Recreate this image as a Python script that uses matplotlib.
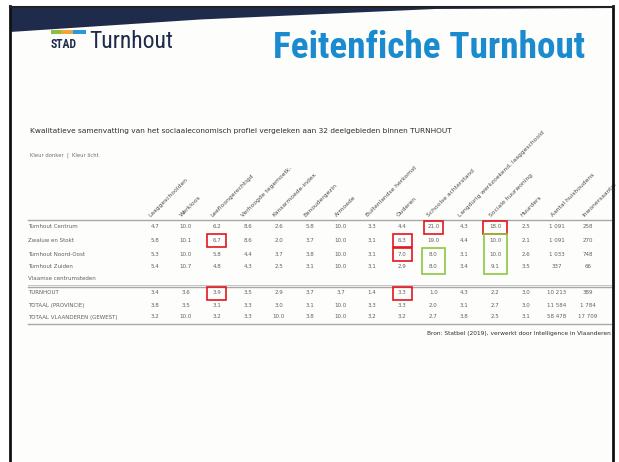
import matplotlib
matplotlib.use("Agg")
import matplotlib.pyplot as plt
from matplotlib.patches import Polygon, Rectangle
import numpy as np

# ---------------- data ----------------
slide_title = "Feitenfiche Turnhout"
logo_small = "STAD"
logo_big = "Turnhout"
table_title = ("Kwalitatieve samenvatting van het sociaaleconomisch profiel vergeleken "
               "aan 32 deelgebieden binnen TURNHOUT")
legend_text = "Kleur donker  |  Kleur licht"
footnote = "Bron: Statbel (2019), verwerkt door Intelligence in Vlaanderen"

col_labels = ["Laaggeschoolden", "Werkloos", "Leefloongerechtigd", "Verhoogde tegemoetk.",
              "Kansarmoede-index", "Eenoudergezin", "Armoede", "Buitenlandse herkomst",
              "Ouderen", "Schoolse achterstand", "Langdurig werkzoekend, laaggeschoold",
              "Sociale huurwoning", "Huurders", "Aantal huishoudens", "Inwonersaantal"]

row_labels = ["Turnhout Centrum", "Zwaluw en Stokt", "Turnhout Noord-Oost", "Turnhout Zuiden",
              "Vlaamse centrumsteden",
              "TURNHOUT", "TOTAAL (PROVINCIE)", "TOTAAL VLAANDEREN (GEWEST)"]

row_turnhout_centrum = [4.7, 10.0, 6.2, 8.6, 2.6, 5.8, 10.0, 3.3, 4.4, 21.0, 4.3, 18.0, 2.5, 1091, 258]
row_zwaluw = [5.8, 10.1, 6.7, 8.6, 2.0, 3.7, 10.0, 3.1, 6.3, 19.0, 4.4, 10.0, 2.1, 1091, 270]
row_noord_oost = [5.3, 10.0, 5.8, 4.4, 3.7, 3.8, 10.0, 3.1, 7.0, 8.0, 3.1, 10.0, 2.6, 1033, 748]
row_zuiden = [5.4, 10.7, 4.8, 4.3, 2.5, 3.1, 10.0, 3.1, 2.9, 8.0, 3.4, 9.1, 3.5, 337, 66]
row_turnhout = [3.4, 3.6, 3.9, 3.5, 2.9, 3.7, 3.7, 1.4, 3.3, 1.0, 4.3, 2.2, 3.0, 10213, 389]
row_provincie = [3.8, 3.5, 3.1, 3.3, 3.0, 3.1, 10.0, 3.3, 3.3, 2.0, 3.1, 2.7, 3.0, 11584, 1784]
row_vlaanderen = [3.2, 10.0, 3.2, 3.3, 10.0, 3.8, 10.0, 3.2, 3.2, 2.7, 3.8, 2.5, 3.1, 58478, 17709]

table_rows = [row_turnhout_centrum, row_zwaluw, row_noord_oost, row_zuiden, None,
              row_turnhout, row_provincie, row_vlaanderen]

# highlighted cells: (column index, first row, last row)
red_cells = [(2, 1, 1), (2, 5, 5), (8, 1, 1), (8, 2, 2), (8, 5, 5), (9, 0, 0), (11, 0, 0)]
green_cells = [(9, 2, 3), (11, 1, 3)]

# ---------------- layout ----------------
NARROW = ["Roboto Condensed", "Archivo Narrow", "Liberation Sans Narrow", "PT Sans Narrow",
          "DejaVu Sans"]

W, H = 619, 462
fig = plt.figure(figsize=(W / 100, H / 100), dpi=100)
fig.patch.set_facecolor("white")
ax = fig.add_axes([0, 0, 1, 1])
ax.set_xlim(0, W)
ax.set_ylim(H, 0)
ax.axis("off")

# slide background and border
ax.add_patch(Rectangle((10, 7), 603, 460, facecolor="#fdfdfb", edgecolor="none", zorder=0))
ax.plot([10, 10], [6, H], color="#111111", lw=2.0, zorder=5)
ax.plot([613, 613], [6, H], color="#111111", lw=2.0, zorder=5)
ax.plot([10, 613], [7, 7], color="#222222", lw=1.5, zorder=5)
ax.add_patch(Polygon([(10, 7), (10, 32), (200, 19.5), (435, 9), (613, 8), (613, 7)],
                     closed=True, facecolor="#1f2b4b", edgecolor="none", zorder=4))

# logo
for x0, w, c in [(51, 10, "#8cbf3f"), (61, 12, "#f2a33a"), (73, 13, "#2a9ad6")]:
    ax.add_patch(Rectangle((x0, 29.5), w, 4, facecolor=c, edgecolor="none", zorder=6))
ax.text(51, 48.5, logo_small, fontsize=8.5, fontweight="bold", color="#1f2b4b",
        family=NARROW, va="baseline", ha="left")
ax.text(89, 48.5, logo_big, fontsize=17.0, color="#1f2b4b",
        family=NARROW, va="baseline", ha="left")

# slide title
ax.text(585, 58, slide_title, fontsize=26.8, fontweight="bold", color="#1a8bcf",
        family=NARROW, va="baseline", ha="right")

# table title and legend
ax.text(30, 133, table_title, fontsize=5.3, color="#2e2e2e", ha="left", va="baseline")
ax.text(30, 157, legend_text, fontsize=3.8, color="#707070", ha="left", va="baseline")

col_x = np.linspace(155, 588, len(col_labels))
row_y = [227, 240.5, 254, 267, 278.5, 293, 305.5, 317]
label_x = 28
txt_col = "#606060"

# rotated headers
for x, lab in zip(col_x, col_labels):
    ax.text(x - 4, 217, lab, rotation=45, rotation_mode="anchor", fontsize=4.3,
            color="#4a4a4a", ha="left", va="baseline")

# rules
ax.plot([28, 611], [220, 220], color="#a8a8a8", lw=1.0)
ax.plot([28, 611], [284.5, 284.5], color="#bbbbbb", lw=0.6)
ax.plot([28, 611], [287, 287], color="#a8a8a8", lw=1.0)
ax.plot([28, 611], [324, 324], color="#a8a8a8", lw=1.0)

def fmt(v):
    if isinstance(v, int):
        return f"{v:,}".replace(",", " ")
    return f"{v:.1f}"

for r, (y, lab) in enumerate(zip(row_y, row_labels)):
    ax.text(label_x, y, lab, fontsize=4.0, color=txt_col, ha="left", va="center")
    vals = table_rows[r]
    if vals is None:
        continue
    for x, v in zip(col_x, vals):
        ax.text(x, y, fmt(v), fontsize=4.0, color=txt_col, ha="center", va="center")

# footnote
ax.text(611, 334, footnote, fontsize=4.2, color="#2e2e2e", ha="right", va="center")

# highlight boxes
def box(c, r0, r1, color, w):
    y0 = row_y[r0] - 6.5
    y1 = row_y[r1] + 6.5
    ax.add_patch(Rectangle((col_x[c] - w / 2, y0), w, y1 - y0, facecolor="none",
                           edgecolor=color, lw=1.2, zorder=7))

for c, r0, r1 in red_cells:
    box(c, r0, r1, "#e3161e", 24 if c == 11 else 19)
for c, r0, r1 in green_cells:
    box(c, r0, r1, "#8dc63f", 23)

fig.savefig("out.png", dpi=100, facecolor=fig.get_facecolor())
